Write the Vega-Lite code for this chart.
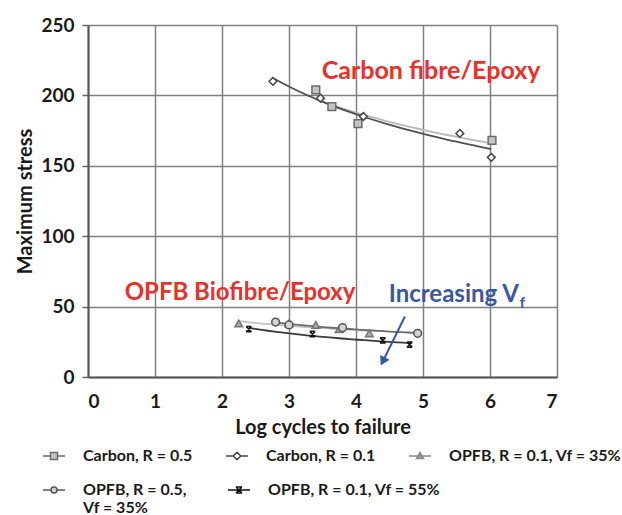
{
  "$schema": "https://vega.github.io/schema/vega-lite/v6.json",
  "width": 469,
  "height": 352,
  "autosize": {"type": "none"},
  "padding": {"left": 88, "top": 25, "right": 65, "bottom": 138},
  "background": "white",
  "config": {
    "font": "Lato",
    "view": {"stroke": null},
    "axis": {
      "labelFont": "Lato",
      "labelFontWeight": "bold",
      "labelFontSize": 19,
      "labelColor": "#1a1a1a",
      "titleFont": "Lato",
      "titleFontWeight": "bold",
      "titleFontSize": 20,
      "titleColor": "#1a1a1a",
      "gridColor": "#808080",
      "gridWidth": 1.5,
      "gridOpacity": 1,
      "domainColor": "#555555",
      "domainWidth": 2,
      "tickColor": "#666666",
      "tickWidth": 1.5
    },
    "legend": {
      "orient": "none",
      "direction": "horizontal",
      "padding": 0,
      "labelFont": "Lato",
      "labelFontWeight": "bold",
      "labelFontSize": 16,
      "labelColor": "#1a1a1a",
      "labelLimit": 300,
      "labelOffset": 21,
      "symbolSize": 100,
      "symbolStrokeWidth": 1.5
    }
  },
  "resolve": {"scale": {"shape": "independent", "fill": "independent", "stroke": "independent"}},
  "datasets": {
    "pts": [
      {"series": "Carbon, R = 0.5", "x": 3.40, "y": 204},
      {"series": "Carbon, R = 0.5", "x": 3.64, "y": 192},
      {"series": "Carbon, R = 0.5", "x": 4.03, "y": 180},
      {"series": "Carbon, R = 0.5", "x": 6.03, "y": 168},
      {"series": "Carbon, R = 0.1", "x": 2.76, "y": 210},
      {"series": "Carbon, R = 0.1", "x": 3.47, "y": 198},
      {"series": "Carbon, R = 0.1", "x": 4.11, "y": 185},
      {"series": "Carbon, R = 0.1", "x": 5.55, "y": 173},
      {"series": "Carbon, R = 0.1", "x": 6.02, "y": 156},
      {"series": "OPFB, R = 0.1, Vf = 35%", "x": 2.25, "y": 38},
      {"series": "OPFB, R = 0.1, Vf = 35%", "x": 3.0, "y": 38},
      {"series": "OPFB, R = 0.1, Vf = 35%", "x": 3.4, "y": 37},
      {"series": "OPFB, R = 0.1, Vf = 35%", "x": 3.75, "y": 34},
      {"series": "OPFB, R = 0.1, Vf = 35%", "x": 4.2, "y": 31},
      {"series": "OPFB, R = 0.5, Vf = 35%", "x": 2.8, "y": 39},
      {"series": "OPFB, R = 0.5, Vf = 35%", "x": 3.0, "y": 37},
      {"series": "OPFB, R = 0.5, Vf = 35%", "x": 3.8, "y": 35},
      {"series": "OPFB, R = 0.5, Vf = 35%", "x": 4.92, "y": 31},
      {"series": "OPFB, R = 0.1, Vf = 55%", "x": 2.4, "y": 34},
      {"series": "OPFB, R = 0.1, Vf = 55%", "x": 3.35, "y": 30.5},
      {"series": "OPFB, R = 0.1, Vf = 55%", "x": 4.4, "y": 26},
      {"series": "OPFB, R = 0.1, Vf = 55%", "x": 4.8, "y": 23}
    ],
    "one": [{"k": 1}]
  },
  "layer": [
    {
      "data": {"name": "pts"},
      "transform": [{"regression": "y", "on": "x", "groupby": ["series"], "method": "pow"}],
      "mark": {"type": "line", "strokeWidth": 1.8},
      "encoding": {
        "x": {"field": "x", "type": "quantitative", "scale": {"domain": [0, 7], "nice": false},
              "axis": {"values": [0,1,2,3,4,5,6,7], "format": "d", "title": "Log cycles to failure", "ticks": false, "labelPadding": 15, "titlePadding": 6}},
        "y": {"field": "y", "type": "quantitative", "scale": {"domain": [0, 250], "nice": false},
              "axis": {"values": [0,50,100,150,200,250], "format": "d", "title": "Maximum stress", "tickSize": 6, "labelPadding": 8, "titlePadding": 5}},
        "detail": {"field": "series", "type": "nominal"},
        "color": {
          "condition": [
            {"test": "datum.series === 'Carbon, R = 0.5'", "value": "#b8b8b8"},
            {"test": "datum.series === 'Carbon, R = 0.1'", "value": "#505050"},
            {"test": "datum.series === 'OPFB, R = 0.1, Vf = 35%'", "value": "#c4c4c4"},
            {"test": "datum.series === 'OPFB, R = 0.5, Vf = 35%'", "value": "#6a6a6a"}
          ],
          "value": "#3a3a3a"
        }
      }
    },
    {
      "data": {"name": "pts"},
      "mark": {"type": "point", "filled": true, "strokeWidth": 1.5, "size": 60, "opacity": 1},
      "encoding": {
        "x": {"field": "x", "type": "quantitative"},
        "y": {"field": "y", "type": "quantitative"},
        "detail": {"field": "series", "type": "nominal"},
        "shape": {
          "condition": [
            {"test": "datum.series === 'Carbon, R = 0.5'", "value": "square"},
            {"test": "datum.series === 'Carbon, R = 0.1'", "value": "diamond"},
            {"test": "datum.series === 'OPFB, R = 0.1, Vf = 35%'", "value": "triangle-up"},
            {"test": "datum.series === 'OPFB, R = 0.5, Vf = 35%'", "value": "circle"}
          ],
          "value": "M-0.7,-0.7L0.7,0.7M0.7,-0.7L-0.7,0.7M-0.7,-0.7H0.7M-0.7,0.7H0.7"
        },
        "fill": {
          "condition": [
            {"test": "datum.series === 'Carbon, R = 0.5'", "value": "#c4c4c4"},
            {"test": "datum.series === 'Carbon, R = 0.1'", "value": "#ffffff"},
            {"test": "datum.series === 'OPFB, R = 0.1, Vf = 35%'", "value": "#a8a8a8"},
            {"test": "datum.series === 'OPFB, R = 0.5, Vf = 35%'", "value": "#d4d4d4"}
          ],
          "value": "#111111"
        },
        "stroke": {
          "condition": [
            {"test": "datum.series === 'Carbon, R = 0.5'", "value": "#6a6a6a"},
            {"test": "datum.series === 'Carbon, R = 0.1'", "value": "#444444"},
            {"test": "datum.series === 'OPFB, R = 0.1, Vf = 35%'", "value": "#777777"},
            {"test": "datum.series === 'OPFB, R = 0.5, Vf = 35%'", "value": "#555555"}
          ],
          "value": "#111111"
        }
      }
    },
    {
      "data": {"name": "pts"},
      "transform": [{"filter": "false"}],
      "mark": {"type": "point", "filled": true, "strokeWidth": 1.5, "size": 100, "opacity": 1},
      "encoding": {
        "x": {"field": "x", "type": "quantitative"},
        "y": {"field": "y", "type": "quantitative"},
        "shape": {"field": "series", "type": "nominal", "title": null,
                  "scale": {"domain": ["Carbon, R = 0.5", "Carbon, R = 0.1", "OPFB, R = 0.1, Vf = 35%"],
                            "range": [
                              "M-2.2,0H-0.7M0.7,0H2.2M-0.7,-0.7H0.7V0.7H-0.7Z",
                              "M-2.2,0H-0.7M0.7,0H2.2M0,-0.75L0.75,0L0,0.75L-0.75,0Z",
                              "M-2.2,0H2.2M0,-0.7L0.7,0.5H-0.7Z"
                            ]},
                  "legend": {"legendX": -42, "legendY": 423, "columnPadding": 30}},
        "fill": {"field": "series", "type": "nominal", "title": null,
                 "scale": {"domain": ["Carbon, R = 0.5", "Carbon, R = 0.1", "OPFB, R = 0.1, Vf = 35%"],
                           "range": ["#c4c4c4", "#ffffff", "#a8a8a8"]}},
        "stroke": {"field": "series", "type": "nominal", "title": null,
                   "scale": {"domain": ["Carbon, R = 0.5", "Carbon, R = 0.1", "OPFB, R = 0.1, Vf = 35%"],
                             "range": ["#6a6a6a", "#444444", "#8a8a8a"]}}
      }
    },
    {
      "data": {"name": "pts"},
      "transform": [{"filter": "false"}],
      "mark": {"type": "point", "filled": true, "strokeWidth": 1.5, "size": 100, "opacity": 1},
      "encoding": {
        "x": {"field": "x", "type": "quantitative"},
        "y": {"field": "y", "type": "quantitative"},
        "shape": {"field": "series", "type": "nominal", "title": null,
                  "scale": {"domain": ["OPFB, R = 0.5, Vf = 35%", "OPFB, R = 0.1, Vf = 55%"],
                            "range": [
                              "M-2.2,0H-0.6M0.6,0H2.2M-0.6,0A0.6,0.6 0 1,0 0.6,0A0.6,0.6 0 1,0 -0.6,0Z",
                              "M-2.2,0H2.2M-0.6,-0.6L0.6,0.6M0.6,-0.6L-0.6,0.6M-0.6,-0.6H0.6M-0.6,0.6H0.6"
                            ]},
                  "legend": {"legendX": -42, "legendY": 457, "columnPadding": 38,
                             "labelExpr": "datum.label === 'OPFB, R = 0.5, Vf = 35%' ? ['OPFB, R = 0.5,', 'Vf = 35%'] : [datum.label, ' ']"}},
        "fill": {"field": "series", "type": "nominal", "title": null,
                 "scale": {"domain": ["OPFB, R = 0.5, Vf = 35%", "OPFB, R = 0.1, Vf = 55%"],
                           "range": ["#d4d4d4", "#111111"]}},
        "stroke": {"field": "series", "type": "nominal", "title": null,
                   "scale": {"domain": ["OPFB, R = 0.5, Vf = 35%", "OPFB, R = 0.1, Vf = 55%"],
                             "range": ["#555555", "#111111"]}}
      }
    },
    {
      "data": {"name": "one"},
      "mark": {"type": "text", "text": "Carbon fibre/Epoxy", "font": "Lato", "fontWeight": "bold", "fontSize": 25, "color": "#e8312b", "align": "center", "baseline": "middle"},
      "encoding": {"x": {"datum": 5.12}, "y": {"datum": 217}}
    },
    {
      "data": {"name": "one"},
      "mark": {"type": "text", "text": "OPFB Biofibre/Epoxy", "font": "Lato", "fontWeight": "bold", "fontSize": 24, "color": "#e8312b", "align": "center", "baseline": "middle"},
      "encoding": {"x": {"datum": 2.27}, "y": {"datum": 60}}
    },
    {
      "data": {"name": "one"},
      "mark": {"type": "text", "text": "Increasing V", "font": "Lato", "fontWeight": "bold", "fontSize": 24, "color": "#3a56a6", "align": "right", "baseline": "middle"},
      "encoding": {"x": {"datum": 6.43}, "y": {"datum": 58.5}}
    },
    {
      "data": {"name": "one"},
      "mark": {"type": "text", "text": "f", "font": "Lato", "fontWeight": "bold", "fontSize": 15, "color": "#3a56a6", "align": "left", "baseline": "middle", "dx": 1},
      "encoding": {"x": {"datum": 6.43}, "y": {"datum": 52.5}}
    },
    {
      "data": {"name": "one"},
      "mark": {"type": "rule", "color": "#3a56a6", "strokeWidth": 2},
      "encoding": {"x": {"datum": 4.73}, "y": {"datum": 43}, "x2": {"datum": 4.42}, "y2": {"datum": 13}}
    },
    {
      "data": {"name": "one"},
      "mark": {"type": "point", "shape": "triangle-up", "angle": 207, "filled": true, "color": "#3a56a6", "size": 110, "opacity": 1},
      "encoding": {"x": {"datum": 4.4}, "y": {"datum": 11}}
    }
  ]
}
